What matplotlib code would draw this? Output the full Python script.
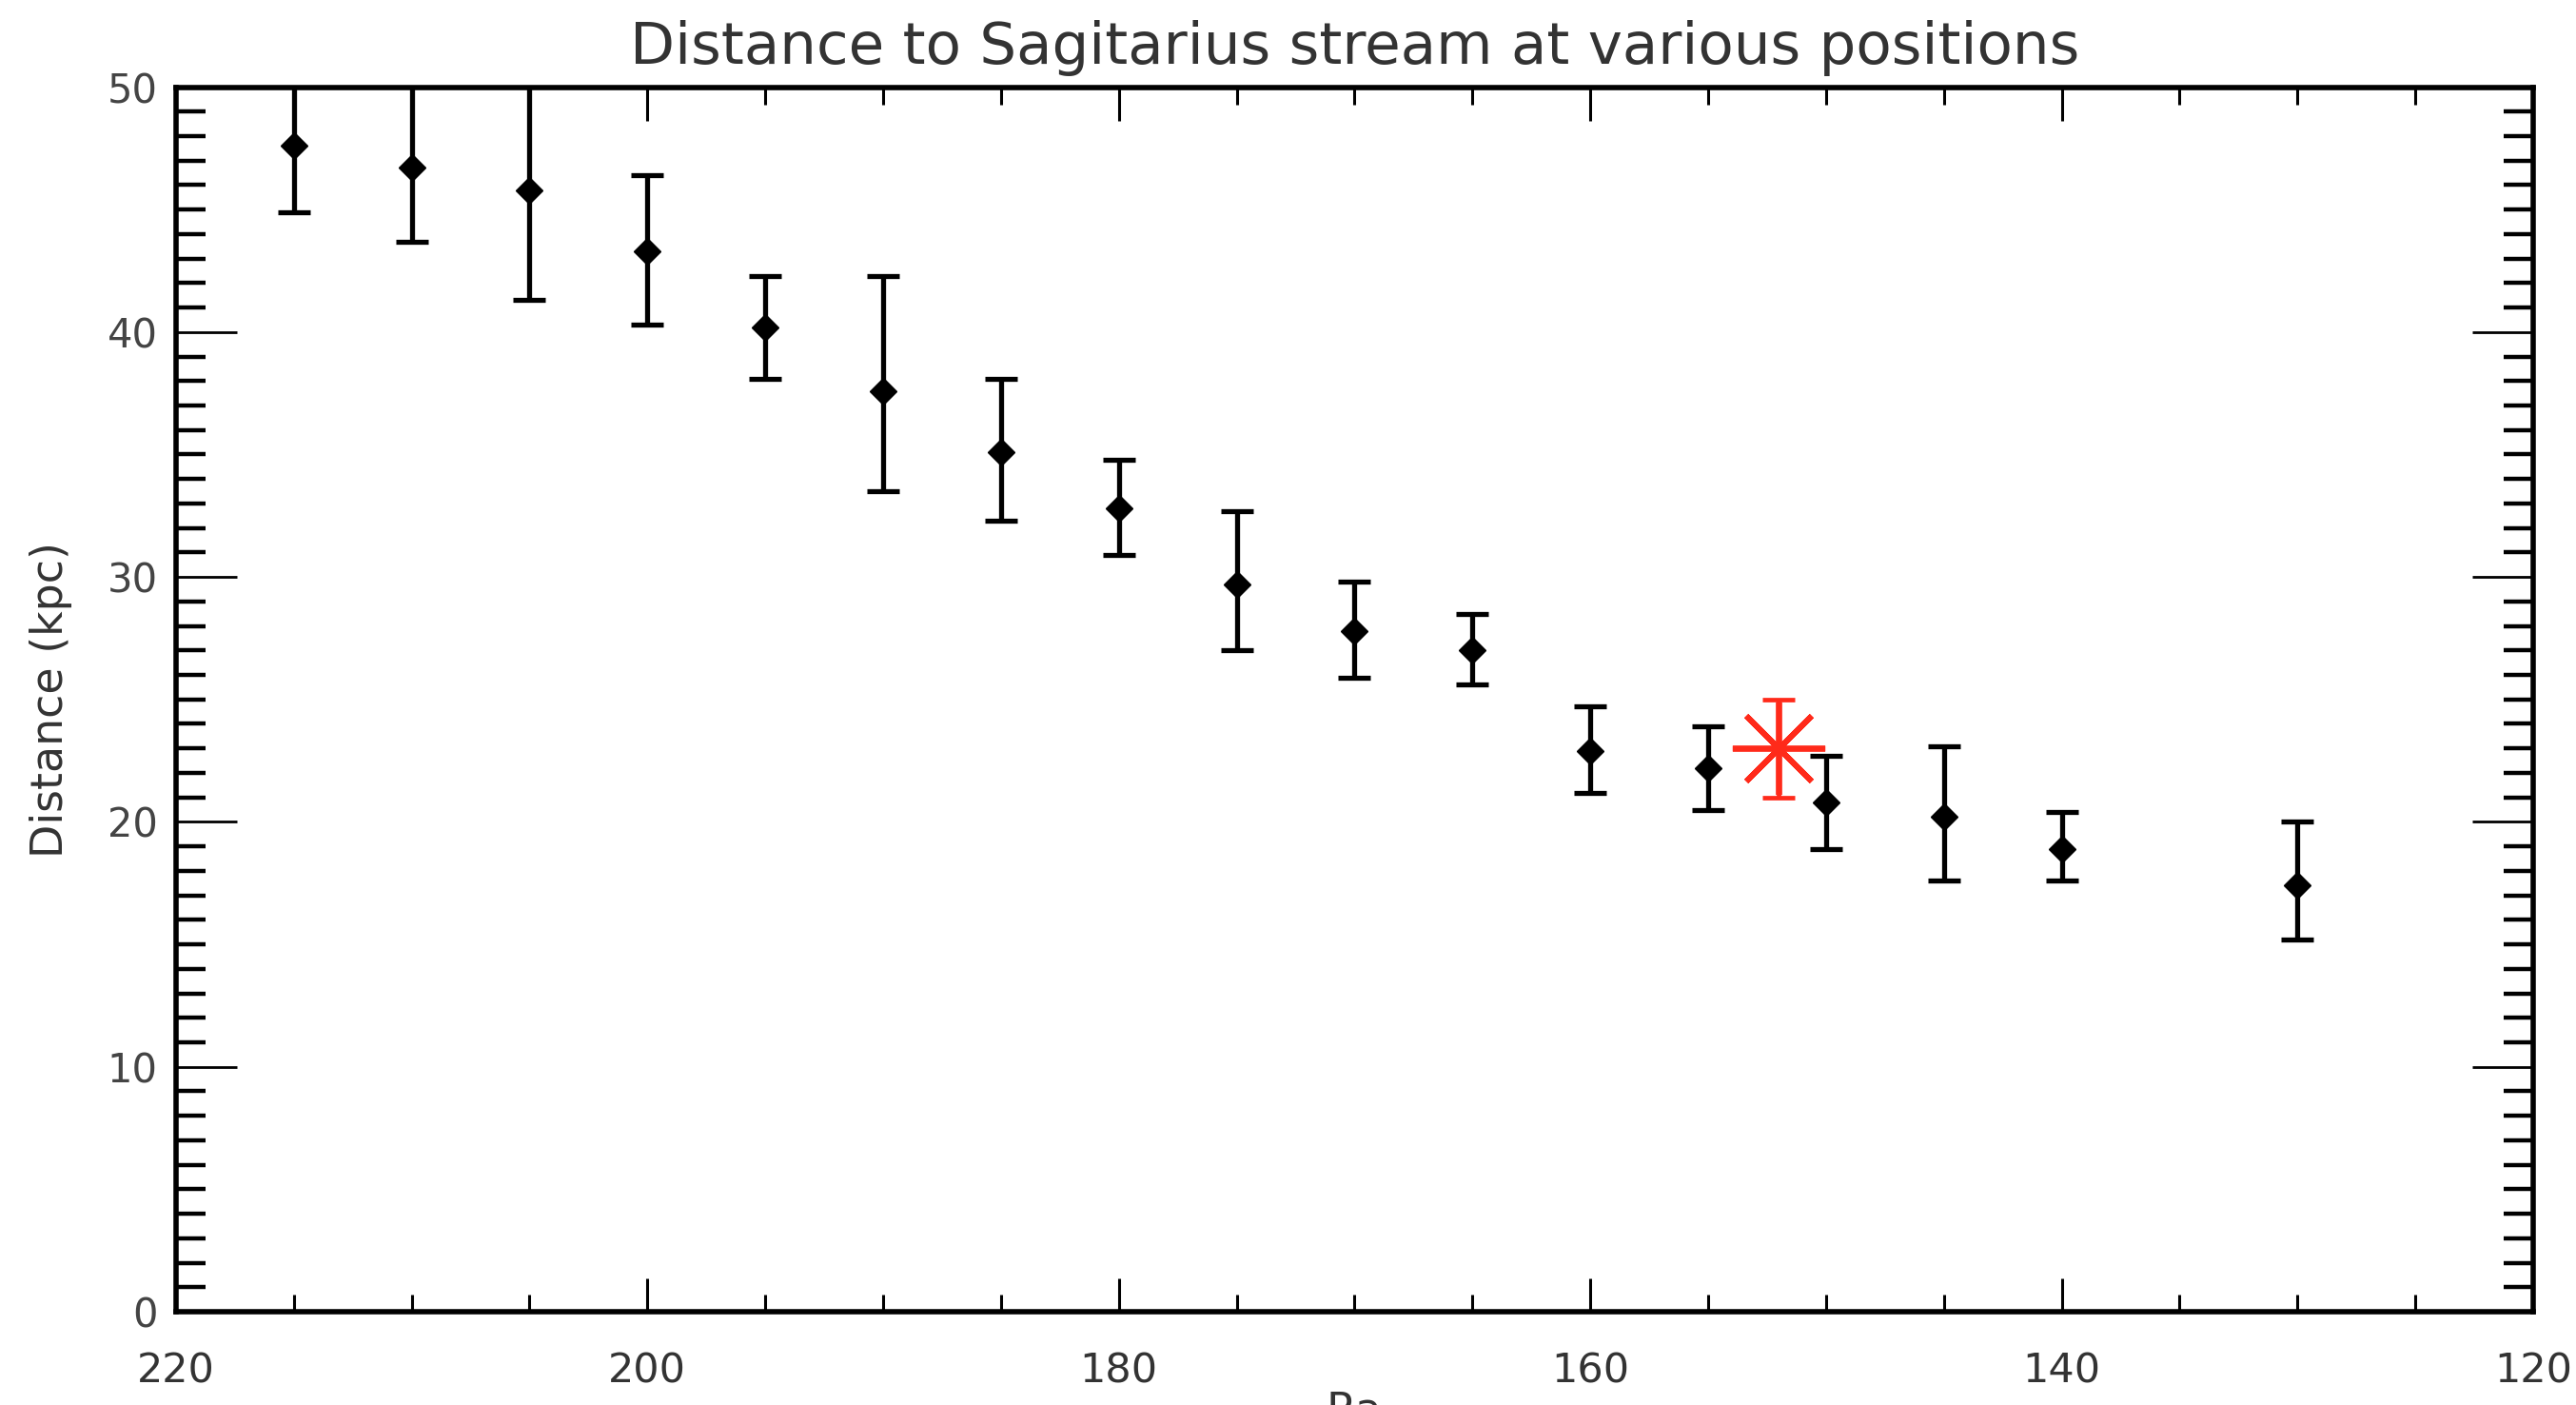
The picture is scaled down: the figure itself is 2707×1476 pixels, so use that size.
import matplotlib.pyplot as plt
from matplotlib.ticker import MultipleLocator

# Sagittarius stream distances
ra = [215, 210, 205, 200, 195, 190, 185, 180, 175, 170, 165, 160, 155, 150, 145, 140, 130]
dist = [47.6, 46.7, 45.8, 43.3, 40.2, 37.6, 35.1, 32.8, 29.7, 27.8, 27.0, 22.9, 22.2, 20.8, 20.2, 18.9, 17.4]
err_low = [2.7, 3.0, 4.5, 3.0, 2.1, 4.1, 2.8, 1.9, 2.7, 1.9, 1.4, 1.7, 1.7, 1.9, 2.6, 1.3, 2.2]
err_high = [3.0, 3.5, 4.5, 3.1, 2.1, 4.7, 3.0, 2.0, 3.0, 2.0, 1.5, 1.8, 1.7, 1.9, 2.9, 1.5, 2.6]

star_ra = [152]
star_dist = [23.0]
star_err = [2.0]

plt.rcParams['font.family'] = ['DejaVu Sans']

fig = plt.figure(figsize=(27.07, 14.76), dpi=100)
ax = fig.add_axes([0.0683, 0.0664, 0.9151, 0.8716])

ax.errorbar(ra, dist, yerr=[err_low, err_high], fmt='D', color='black',
            markersize=14, elinewidth=3.8, capsize=12, capthick=3.8, zorder=3)
ax.errorbar(star_ra, star_dist, yerr=star_err, fmt='none', ecolor='#ff2a1a',
            elinewidth=3.4, capsize=12, capthick=3.4, zorder=4)
ax.plot(star_ra, star_dist, marker=(8, 2, 0), markersize=70, color='#ff2a1a',
        markeredgewidth=4.2, linestyle='none', zorder=4)

ax.set_xlim(220, 120)
ax.set_ylim(0, 50)
ax.xaxis.set_major_locator(MultipleLocator(20))
ax.xaxis.set_minor_locator(MultipleLocator(5))
ax.yaxis.set_major_locator(MultipleLocator(10))
ax.yaxis.set_minor_locator(MultipleLocator(1))

ax.tick_params(axis='both', which='both', direction='in', top=True, right=True, color='black')
ax.tick_params(axis='x', which='major', length=25, width=2.2, labelsize=31, pad=30, labelcolor='#333333')
ax.tick_params(axis='x', which='minor', length=13, width=2.2)
ax.tick_params(axis='y', which='major', length=46, width=2.0, labelsize=30, pad=14, labelcolor='#444444')
ax.tick_params(axis='y', which='minor', length=22, width=3.2)

for side in ['left', 'right', 'top', 'bottom']:
    ax.spines[side].set_linewidth(4)

ax.set_title('Distance to Sagitarius stream at various positions', fontsize=44,
             color='#333333', pad=18)
ax.set_ylabel('Distance (kpc)', fontsize=33, color='#333333', labelpad=26)
# the x label sits mostly below the frame edge, as in the original image
ax.set_xlabel('Ra', fontsize=33, color='#333333')
ax.xaxis.set_label_coords(0.5, -0.064)

fig.savefig('out.png', dpi=100)
